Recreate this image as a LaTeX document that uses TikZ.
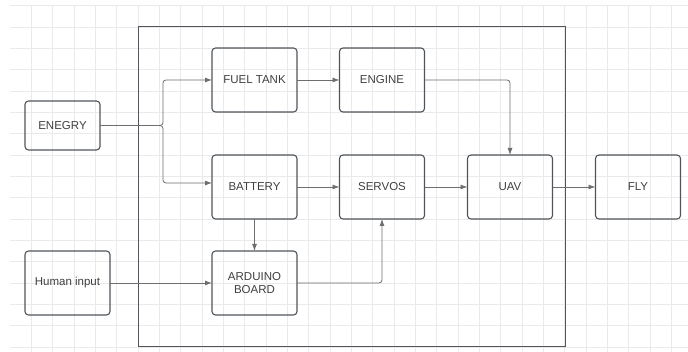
\documentclass[tikz,border=0pt]{standalone}
\usepackage{fontspec}
\setmainfont{Liberation Sans}
\usepackage{xcolor}
\usepackage{tikz}
\usetikzlibrary{arrows.meta,positioning}

\definecolor{boxline}{HTML}{50555B}
\definecolor{wire}{HTML}{6E6E6E}
\definecolor{gridline}{HTML}{EAEAEA}
\definecolor{txt}{HTML}{3F3F3F}

\begin{document}
\begin{tikzpicture}[x=1pt,y=1pt,
  block/.style={rectangle,draw=boxline,line width=1.1pt,rounded corners=3.5pt,outer sep=0pt,inner sep=0pt,
    minimum width=85pt,minimum height=64pt,align=center,text=txt,font=\fontsize{11.5}{13.5}\selectfont},
  arr/.style={-{Latex[length=7pt,width=5pt]},draw=wire,line width=0.8pt,rounded corners=3pt}
]
\useasboundingbox[fill=white] (0,0) rectangle (688,352);
% grid
\foreach \i in {1,...,31}
  \draw[gridline,line width=0.6pt] ({10+\i*21.33},0) -- ({10+\i*21.33},346.33);
\foreach \k in {0,...,16}
  \draw[gridline,line width=0.6pt] (10,{346.33-\k*21.33}) -- (688,{346.33-\k*21.33});
% system frame
\draw[boxline,line width=1pt] (138,325) rectangle (565,5);

\node[block] (fuel) at (254.5,272) {FUEL TANK};
\node[block,right=42.5pt of fuel] (engine) {ENGINE};
\node[block,below=43pt of fuel] (battery) {BATTERY};
\node[block,right=42.5pt of battery] (servos) {SERVOS};
\node[block,right=43pt of servos] (uav) {UAV};
\node[block,right=43pt of uav] (fly) {FLY};
\node[block,below=32pt of battery] (arduino) {ARDUINO\\BOARD};
\node[block,left=102pt of arduino] (human) {Human input};
\node[block,minimum width=75pt,minimum height=49pt] (energy) at (62.5,226.5) {ENEGRY};

\draw[arr] (energy.east) -- ++(63,0) |- (fuel.west);
\draw[arr] (energy.east) -- ++(63,0) |- ([yshift=4pt]battery.west);
\draw[arr] (fuel) -- (engine);
\draw[arr] (engine.east) -| (uav.north);
\draw[arr] (battery) -- (servos);
\draw[arr] (servos) -- (uav);
\draw[arr] (uav) -- (fly);
\draw[arr] (battery) -- (arduino);
\draw[arr] (human) -- (arduino);
\draw[arr] (arduino.east) -| (servos.south);
\end{tikzpicture}
\end{document}
